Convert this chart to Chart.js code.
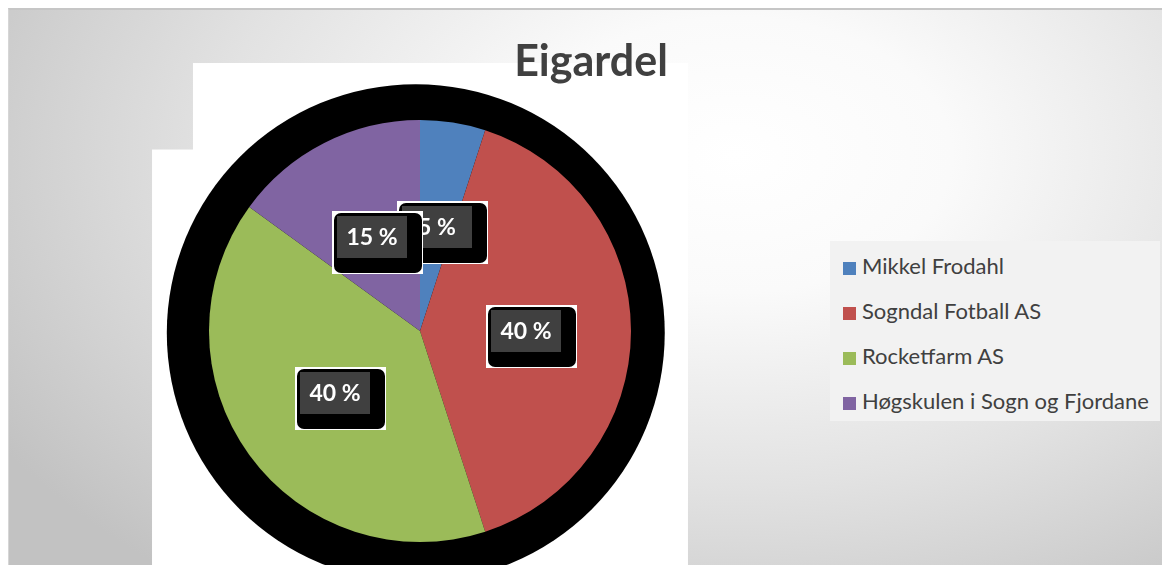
<!DOCTYPE html>
<html>
<head>
<meta charset="utf-8">
<title>Eigardel</title>
<script src="https://cdn.jsdelivr.net/npm/chart.js@4.4.0/dist/chart.umd.min.js"></script>
<style>
  body { margin: 0; background: #fff; }
  #wrap { position: relative; width: 1163px; height: 565px; overflow: hidden; }
  #frame {
    position: absolute; left: 8px; top: 8px; width: 1153px; height: 580px;
    border-top: 2px solid #c6c6c6; border-left: 1px solid #d6d6d6;
    background: radial-gradient(ellipse 75% 95% at 63% 25%, #ffffff 0%, #fafafa 25%, #e2e2e2 60%, #c2c2c2 100%);
  }
  #chart { position: absolute; left: 0; top: 0; }
  #title {
    position: absolute; left: 0; width: 1182px; top: 34px; text-align: center;
    font: bold 43px Lato, sans-serif; color: #404040;
  }
  #legend {
    position: absolute; left: 830px; top: 241px; width: 330px; height: 180px;
    background: #f2f2f2; box-sizing: border-box; padding-top: 11px;
  }
  .item { height: 45px; line-height: 24px; font: 22px Lato, sans-serif; color: #404040; white-space: nowrap; }
  .sw { display: inline-block; width: 13px; height: 13px; margin: 0 6px 0 13px; vertical-align: -1px; }
</style>
</head>
<body>
<div id="wrap">
  <div id="frame"></div>
  <canvas id="chart" width="1163" height="565"></canvas>
  <div id="title">Eigardel</div>
  <div id="legend"></div>
</div>
<script>
const labels = ['Mikkel Frodahl', 'Sogndal Fotball AS', 'Rocketfarm AS', 'Høgskulen i Sogn og Fjordane'];
const shares = [5, 40, 40, 15];
const colors = ['#4f81bd', '#c0504d', '#9bbb59', '#8064a2'];

// legend
const legend = document.getElementById('legend');
labels.forEach((name, i) => {
  const row = document.createElement('div');
  row.className = 'item';
  row.innerHTML = '<span class="sw" style="background:' + colors[i] + '"></span>' + name;
  legend.appendChild(row);
});

// the white patch and black blob behind the pie
const backdrop = {
  id: 'backdrop',
  beforeDatasetsDraw(chart) {
    const arc = chart.getDatasetMeta(0).data[0];
    if (!arc) return;
    const { x, y, outerRadius: r } = arc.getProps(['x', 'y', 'outerRadius'], true);
    const ctx = chart.ctx;
    const bottom = chart.height;
    ctx.save();
    ctx.fillStyle = '#fff';
    ctx.fillRect(x - 1.076 * r, y - 1.27 * r, 2.346 * r, bottom);
    ctx.fillRect(x - 1.27 * r, y - 0.86 * r, 0.3 * r, bottom);
    ctx.fillStyle = '#000';
    ctx.beginPath();
    ctx.arc(x - 0.02 * r, y + 0.01 * r, 1.18 * r, 0, Math.PI * 2);
    ctx.fill();
    ctx.restore();
  }
};

// data labels drawn as dark boxes with a black rounded shadow
const boxLabels = {
  id: 'boxLabels',
  afterDatasetsDraw(chart) {
    const ctx = chart.ctx;
    const meta = chart.getDatasetMeta(0);
    meta.data.forEach((arc, i) => {
      const p = arc.tooltipPosition(true);
      const x = Math.round(p.x), y = Math.round(p.y);
      ctx.save();
      ctx.fillStyle = '#fff';
      ctx.fillRect(x - 40, y - 26, 91, 63);
      ctx.fillStyle = '#000';
      ctx.beginPath();
      ctx.roundRect(x - 38, y - 24, 88, 60, 7);
      ctx.fill();
      ctx.fillStyle = '#404040';
      ctx.fillRect(x - 35, y - 21, 70, 42);
      ctx.fillStyle = '#fff';
      ctx.font = 'bold 23px Lato, sans-serif';
      ctx.textAlign = 'center';
      ctx.textBaseline = 'middle';
      ctx.fillText(shares[i] + ' %', x, y + 1);
      ctx.restore();
    });
  }
};

new Chart(document.getElementById('chart'), {
  type: 'pie',
  data: {
    labels: labels,
    datasets: [{
      data: shares,
      backgroundColor: colors,
      borderWidth: 0
    }]
  },
  options: {
    responsive: false,
    animation: false,
    layout: { padding: { left: 209, right: 532, top: 120, bottom: 23 } },
    plugins: {
      legend: { display: false },
      title: { display: false },
      tooltip: { enabled: false }
    }
  },
  plugins: [backdrop, boxLabels]
});
</script>
</body>
</html>
